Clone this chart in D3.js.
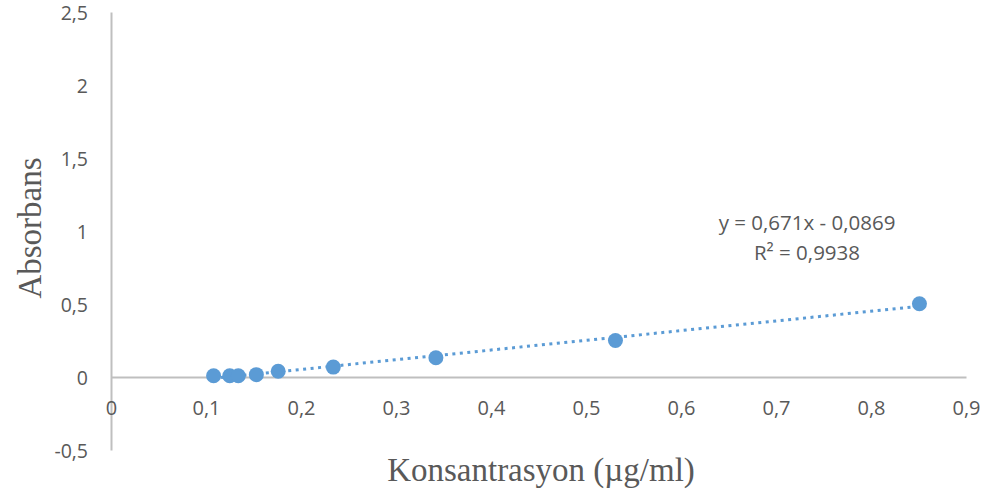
<!DOCTYPE html>
<html>
<head>
<meta charset="utf-8">
<script src="https://cdn.jsdelivr.net/npm/d3@7"></script>
<style>
  body { margin: 0; background: #fff; }
  svg { display: block; }
</style>
</head>
<body>
<svg width="992" height="494"></svg>
<script>
// data
var concentration = [0.108, 0.125, 0.134, 0.153, 0.176, 0.234, 0.342, 0.531, 0.851];
var absorbance = [0.009, 0.009, 0.009, 0.016, 0.039, 0.068, 0.132, 0.25, 0.502];
var xTicks = [0, 0.1, 0.2, 0.3, 0.4, 0.5, 0.6, 0.7, 0.8, 0.9];
var yTicks = [-0.5, 0, 0.5, 1, 1.5, 2, 2.5];
var equationLines = ["y = 0,671x - 0,0869", "R² = 0,9938"];

var svg = d3.select("svg");

var x = d3.scaleLinear().domain([0, 0.9]).range([111, 966]);
var y = d3.scaleLinear().domain([-0.5, 2.5]).range([450, 12]);

var fmt = function (d) { return String(d).replace(".", ","); };
var grey = "#595959";
var tickFont = "'Open Sans', 'Liberation Sans', sans-serif";
var titleFont = "'Liberation Serif', 'Times New Roman', serif";

// y axis line + labels
var yAxis = svg.append("g")
    .attr("transform", "translate(" + x(0) + ",0)")
    .call(d3.axisLeft(y).tickValues(yTicks).tickFormat(fmt).tickSize(0).tickPadding(23));
yAxis.select(".domain").attr("stroke", "#bfbfbf").attr("stroke-width", 2);
yAxis.selectAll("text")
    .attr("fill", grey)
    .attr("dy", "0.4em")
    .style("font-family", tickFont)
    .style("font-size", "19.5px");

// x axis line at y = 0, labels pushed below
var xAxis = svg.append("g")
    .attr("transform", "translate(0," + y(0) + ")")
    .call(d3.axisBottom(x).tickValues(xTicks).tickFormat(fmt).tickSize(0).tickPadding(24));
xAxis.select(".domain").attr("stroke", "#bfbfbf").attr("stroke-width", 2);
xAxis.selectAll("text")
    .attr("fill", grey)
    .style("font-family", tickFont)
    .style("font-size", "20px");

// least squares trend line over the data range
var n = concentration.length;
var mx = d3.mean(concentration), my = d3.mean(absorbance);
var sxy = 0, sxx = 0;
for (var i = 0; i < n; i++) {
    sxy += (concentration[i] - mx) * (absorbance[i] - my);
    sxx += (concentration[i] - mx) * (concentration[i] - mx);
}
var slope = sxy / sxx, intercept = my - slope * mx;
var x0 = d3.min(concentration), x1 = d3.max(concentration);

svg.append("line")
    .attr("x1", x(x0))
    .attr("y1", y(slope * x0 + intercept))
    .attr("x2", x(x1))
    .attr("y2", y(slope * x1 + intercept))
    .attr("stroke", "#5b9bd5")
    .attr("stroke-width", 3)
    .attr("stroke-dasharray", "3,4.5");

// points
svg.append("g")
    .selectAll("circle")
    .data(concentration)
    .enter().append("circle")
    .attr("cx", function (d) { return x(d); })
    .attr("cy", function (d, i) { return y(absorbance[i]); })
    .attr("r", 7.5)
    .attr("fill", "#5b9bd5");

// equation label
svg.append("text")
    .attr("x", 807)
    .attr("y", 230)
    .attr("text-anchor", "middle")
    .attr("fill", grey)
    .style("font-family", tickFont)
    .style("font-size", "20.5px")
    .selectAll("tspan")
    .data(equationLines)
    .enter().append("tspan")
    .attr("x", 807)
    .attr("dy", function (d, i) { return i === 0 ? 0 : 30; })
    .text(function (d) { return d; });

// axis titles
svg.append("text")
    .attr("transform", "translate(41,228) rotate(-90)")
    .attr("text-anchor", "middle")
    .attr("fill", grey)
    .style("font-family", titleFont)
    .style("font-size", "33px")
    .text("Absorbans");

svg.append("text")
    .attr("x", 541)
    .attr("y", 481)
    .attr("text-anchor", "middle")
    .attr("fill", grey)
    .style("font-family", titleFont)
    .style("font-size", "33px")
    .text("Konsantrasyon (µg/ml)");
</script>
</body>
</html>
